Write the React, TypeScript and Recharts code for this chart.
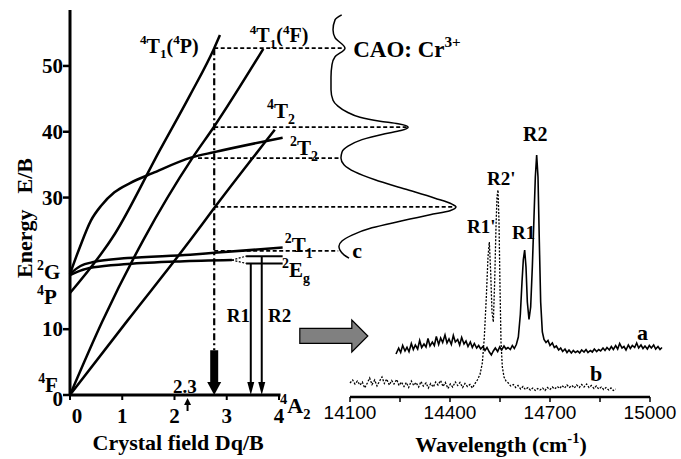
import React from "react";
import { ComposedChart, Line, XAxis, YAxis, ReferenceLine, ReferenceDot } from "recharts";

const SERIF = "Liberation Serif";
const SANS = "Liberation Sans";

// ---- left panel: Tanabe-Sugano diagram for d3, points are [Dq/B, E/B]
const DQ_DOMAIN: [number, number] = [0, 7.656];
const E_DOMAIN: [number, number] = [0, 58.5];
const ABS_DOMAIN: [number, number] = [-2.063, 1.111];
const DQ_TICKS = [0, 1, 2, 3, 4];
const E_TICKS = [0, 10, 30, 40, 50];

const LV_4T1P = [[0, 15.5], [0.86, 24.5], [1.72, 37.2], [2.3, 45.6], [2.76, 52.7], [2.87, 54.7]];
const LV_4T1F = [[0, 0], [0.62, 11.2], [1.4, 23.5], [2.35, 36.1], [2.76, 40.8], [3.7, 52.6]];
const LV_4T2 = [[0, 0], [1.1, 11.3], [2.3, 23.5], [2.76, 28.4], [3.92, 40.3]];
const LV_2T2 = [[0, 18.4], [0.19, 22.5], [0.4, 26.5], [0.6, 28.8], [0.85, 30.8], [1.15, 32.2], [1.58, 33.7], [2.33, 36.1], [2.76, 36.9], [4.07, 39.1]];
const LV_2T1 = [[0, 18.4], [0.2, 19.6], [0.45, 20.2], [1.1, 20.8], [2.3, 21.3], [2.76, 21.6], [4.07, 22.4]];
const LV_2E = [[0, 18.2], [0.2, 18.9], [0.45, 19.4], [1.1, 19.9], [2.1, 20.3], [3.1, 20.5]];

// absorption spectrum (c), drawn on its side: [absorbance, E/B], bottom to top
const ABS_C = [
  [0.151, 20.8], [0.111, 21.3], [0.079, 22.0], [0.071, 22.6], [0.095, 23.4], [0.175, 24.3],
  [0.333, 25.4], [0.556, 26.4], [0.794, 27.4], [0.952, 28.0], [1.0, 28.6], [0.968, 29.0],
  [0.833, 29.9], [0.595, 31.3], [0.357, 32.7], [0.198, 33.9], [0.111, 35.0], [0.087, 36.0],
  [0.095, 36.9], [0.143, 37.8], [0.254, 38.8], [0.437, 39.7], [0.563, 40.2], [0.62, 40.7],
  [0.54, 41.2], [0.397, 41.6], [0.238, 42.2], [0.135, 43.0], [0.063, 43.9], [0.024, 44.8],
  [0.008, 46.4], [0.008, 48.3], [0.016, 50.2], [0.04, 51.4], [0.119, 52.7], [0.04, 54.3],
  [0.024, 55.5], [0.04, 57.0], [0.093, 57.75],
];

// dashed links: [E/B, start Dq/B, end absorbance]
const LINKS = [[52.7, 2.76, 0.1], [40.7, 2.76, 0.61], [36.0, 2.45, 0.085], [28.6, 2.76, 0.99], [21.9, 2.76, 0.065]];

const DQ_SAMPLE = 2.76;
const EXC_TOP = 52.7;
const EXC_SHAFT = [6.8, 1.9];
const SPLIT_FROM = [3.1, 20.5];
const SPLIT_LEVELS = [21.1, 20.0];
const SPLIT_X = [3.37, 4.07];
const R_ARROWS = [[3.46, 20.0], [3.67, 21.1]]; // R1, R2
const DQ_MARK = 2.25;

// ---- right panel: emission spectra, [wavenumber cm-1, intensity]
const WL_DOMAIN: [number, number] = [14100, 15060];
const INT_DOMAIN: [number, number] = [0, 154.8];
const WL_TICKS = [14100, 14250, 14400, 14550, 14700, 14850, 15000];
const WL_LABELLED = [14100, 14400, 14700, 15000];

const SPEC_A = [
  [14238, 17.2], [14246, 19.5], [14252, 17.8], [14258, 20.6], [14265, 18.4], [14271, 19.9], [14277, 18.1],
  [14284, 21.4], [14290, 19.0], [14296, 20.8], [14303, 19.2], [14309, 22.6], [14315, 19.8], [14322, 21.2],
  [14328, 20.0], [14334, 23.4], [14340, 20.4], [14347, 22.0], [14353, 20.6], [14359, 24.2], [14366, 21.0],
  [14372, 23.6], [14378, 21.8], [14385, 24.8], [14391, 21.6], [14397, 23.2], [14404, 21.0], [14410, 24.6],
  [14416, 22.0], [14423, 23.0], [14429, 20.8], [14435, 23.8], [14442, 21.2], [14448, 22.4], [14454, 20.2],
  [14461, 22.0], [14467, 19.8], [14473, 21.4], [14480, 19.6], [14486, 20.6], [14492, 19.2], [14499, 20.2],
  [14505, 18.6], [14511, 19.8], [14518, 18.0], [14524, 16.8], [14530, 18.4], [14536, 19.6], [14543, 18.2],
  [14549, 20.0], [14555, 18.8], [14562, 20.4], [14568, 19.2], [14574, 19.8], [14581, 19.0], [14587, 20.6],
  [14593, 19.4], [14599, 21.0], [14605, 24], [14611, 33], [14616, 46], [14620, 55], [14624, 58.8],
  [14628, 52], [14632, 38], [14637, 31], [14642, 36], [14647, 52], [14652, 72], [14656, 88], [14660, 96.8],
  [14664, 88], [14668, 62], [14672, 38], [14677, 26], [14682, 23.0], [14688, 21.8], [14694, 22.6],
  [14700, 20.6], [14707, 21.6], [14713, 19.8], [14719, 20.4], [14726, 18.8], [14732, 19.6], [14738, 18.2],
  [14745, 19.2], [14751, 17.8], [14757, 18.8], [14764, 17.6], [14770, 18.6], [14776, 17.8], [14783, 18.4],
  [14789, 17.6], [14795, 18.8], [14802, 18.0], [14808, 19.0], [14814, 17.8], [14821, 18.6], [14827, 18.0],
  [14833, 19.2], [14840, 18.2], [14846, 19.0], [14852, 18.4], [14859, 19.6], [14865, 18.6], [14871, 19.8],
  [14878, 18.8], [14884, 20.2], [14890, 19.0], [14897, 20.6], [14903, 19.2], [14909, 21.4], [14916, 19.6],
  [14922, 20.2], [14928, 18.8], [14935, 20.8], [14941, 19.4], [14947, 20.6], [14954, 19.8], [14960, 21.6],
  [14966, 19.6], [14973, 20.8], [14979, 19.4], [14985, 20.4], [14992, 19.2], [14998, 20.6], [15004, 19.6],
  [15011, 20.8], [15017, 19.2], [15024, 20.2], [15030, 19.0], [15036, 19.8],
];

const SPEC_B = [
  [14100, 5.6], [14108, 6.8], [14115, 5.2], [14122, 6.4], [14130, 4.8], [14137, 6.0], [14144, 3.6],
  [14152, 5.6], [14159, 7.6], [14166, 5.0], [14174, 6.8], [14181, 4.4], [14188, 6.2], [14196, 8.0],
  [14203, 5.4], [14210, 7.2], [14218, 4.8], [14225, 6.6], [14232, 5.2], [14240, 7.0], [14247, 4.6],
  [14254, 6.0], [14262, 4.2], [14269, 5.8], [14276, 3.8], [14284, 6.4], [14291, 4.6], [14298, 5.8],
  [14306, 4.0], [14313, 6.2], [14320, 4.4], [14328, 5.6], [14335, 3.6], [14342, 5.4], [14350, 4.0],
  [14357, 6.0], [14364, 4.8], [14372, 6.6], [14379, 4.2], [14386, 5.8], [14394, 3.4], [14401, 5.2],
  [14408, 4.0], [14416, 6.0], [14423, 4.6], [14430, 5.8], [14438, 3.8], [14445, 5.4], [14452, 4.2],
  [14460, 5.0], [14467, 3.6], [14474, 5.2], [14482, 6.8], [14490, 9], [14497, 13.6], [14503, 24],
  [14509, 40], [14514, 56], [14518, 62], [14522, 50], [14526, 34], [14530, 30], [14534, 46], [14538, 68],
  [14541, 80], [14544, 82.8], [14547, 70], [14550, 44], [14553, 22], [14557, 12], [14562, 8.0],
  [14568, 6.4], [14575, 5.6], [14582, 4.4], [14590, 5.0], [14597, 3.8], [14604, 4.6], [14612, 3.2],
  [14619, 4.2], [14626, 3.0], [14634, 3.8], [14641, 2.8], [14648, 3.6], [14656, 2.6], [14663, 3.4],
  [14670, 2.8], [14678, 3.6], [14685, 2.6], [14692, 3.8], [14700, 3.0], [14707, 4.0], [14714, 3.2],
  [14722, 4.2], [14729, 3.4], [14736, 4.6], [14744, 3.6], [14751, 4.8], [14758, 3.8], [14766, 4.6],
  [14773, 3.6], [14780, 4.8], [14788, 3.8], [14795, 5.0], [14802, 4.0], [14810, 5.2], [14817, 3.8],
  [14824, 4.6], [14832, 3.4], [14839, 4.4], [14846, 3.2], [14854, 4.0], [14861, 3.0], [14868, 3.8],
  [14876, 2.8], [14883, 3.6], [14890, 2.6], [14897, 3.2],
];

type Tag = { x: number; y: number; text: string; size: number; anchor?: "start" | "middle" | "end" };

const LEFT_TAGS: Tag[] = [
  { x: 1.34, y: 52.0, text: "^4T_1(^4P)", size: 20 },
  { x: 3.44, y: 53.6, text: "^4T_1(^4F)", size: 20 },
  { x: 3.77, y: 42.1, text: "^4T_2", size: 21 },
  { x: 4.21, y: 36.5, text: "^2T_2", size: 21 },
  { x: 4.11, y: 21.7, text: "^2T_1", size: 21 },
  { x: 4.06, y: 17.9, text: "^2E_g", size: 21 },
  { x: 4.02, y: -2.7, text: "^4A_2", size: 22 },
  { x: -0.63, y: 17.6, text: "^2G", size: 21 },
  { x: -0.63, y: 13.8, text: "^4P", size: 21 },
  { x: -0.61, y: 0.46, text: "^4F", size: 21 },
  { x: 3.0, y: 11.1, text: "R1", size: 19 },
  { x: 3.79, y: 11.1, text: "R2", size: 19 },
  { x: 1.97, y: 0.3, text: "2.3", size: 19 },
  { x: 5.42, y: 51.4, text: "CAO: Cr^{3+}", size: 23 },
  { x: 5.4, y: 20.8, text: "c", size: 22 },
  { x: 2.07, y: -8.4, text: "Crystal field Dq/B", size: 22, anchor: "middle" },
];

const RIGHT_TAGS: Tag[] = [
  { x: 14619, y: 102.4, text: "R2", size: 20 },
  { x: 14511, y: 84.8, text: "R2'", size: 19 },
  { x: 14451, y: 65.6, text: "R1'", size: 19 },
  { x: 14586, y: 63.2, text: "R1", size: 19 },
  { x: 14961, y: 22.8, text: "a", size: 22 },
  { x: 14820, y: 6.4, text: "b", size: 22 },
  { x: 14553, y: -22, text: "Wavelength (cm^{-1})", size: 22, anchor: "middle" },
];

const toPts = (arr: number[][]) => arr.map(([x, y]) => ({ x, y }));
const absToDq = (a: number) =>
  DQ_DOMAIN[0] + ((a - ABS_DOMAIN[0]) / (ABS_DOMAIN[1] - ABS_DOMAIN[0])) * (DQ_DOMAIN[1] - DQ_DOMAIN[0]);

type Part = [string, "n" | "sup" | "sub"];
function parseRich(s: string): Part[] {
  const out: Part[] = [];
  let buf = "";
  let i = 0;
  while (i < s.length) {
    const c = s[i];
    if (c === "^" || c === "_") {
      if (buf) out.push([buf, "n"]);
      buf = "";
      let t: string;
      if (s[i + 1] === "{") {
        const j = s.indexOf("}", i);
        t = s.slice(i + 2, j);
        i = j + 1;
      } else {
        t = s[i + 1];
        i += 2;
      }
      out.push([t, c === "^" ? "sup" : "sub"]);
    } else {
      buf += c;
      i++;
    }
  }
  if (buf) out.push([buf, "n"]);
  return out;
}

function RichText({ x, y, tag }: { x: number; y: number; tag: Tag }) {
  const { size, anchor = "start" } = tag;
  let shift = 0;
  return (
    <text x={x} y={y} fontFamily={SERIF} fontWeight={700} fontSize={size} textAnchor={anchor} fill="#000">
      {parseRich(tag.text).map(([t, k], i) => {
        const target = k === "sup" ? -0.42 * size : k === "sub" ? 0.28 * size : 0;
        const dy = target - shift;
        shift = target;
        return (
          <tspan key={i} dy={dy} fontSize={k === "n" ? size : size * 0.66}>
            {t}
          </tspan>
        );
      })}
    </text>
  );
}

const tagShape = (tag: Tag) => (p: any) => <RichText x={p.cx} y={p.cy} tag={tag} />;

const downHead = (w: number, h: number) => (p: any) => (
  <polygon points={`${p.cx},${p.cy} ${p.cx - w / 2},${p.cy - h} ${p.cx + w / 2},${p.cy - h}`} fill="#000" />
);

const smallUp = (p: any) => (
  <g>
    <line x1={p.cx} y1={p.cy + 16} x2={p.cx} y2={p.cy + 8} stroke="#000" strokeWidth={2} />
    <polygon points={`${p.cx},${p.cy + 3} ${p.cx - 3.5},${p.cy + 10} ${p.cx + 3.5},${p.cy + 10}`} fill="#000" />
  </g>
);

const bigArrow = (p: any) => {
  const { cx, cy } = p;
  const pts = [
    [cx, cy], [cx - 16, cy - 16], [cx - 16, cy - 7.5], [cx - 68, cy - 7.5],
    [cx - 68, cy + 7.5], [cx - 16, cy + 7.5], [cx - 16, cy + 16],
  ];
  return <polygon points={pts.map((q) => q.join(",")).join(" ")} fill="#808080" stroke="#000" strokeWidth={1.2} />;
};

const yTitle = (p: any) => (
  <text
    x={p.cx}
    y={p.cy}
    transform={`rotate(-90 ${p.cx} ${p.cy})`}
    textAnchor="middle"
    fontFamily={SERIF}
    fontWeight={700}
    fontSize={22}
  >
    Energy<tspan dx={16}>E/B</tspan>
  </text>
);

const DqTick = ({ x, y, payload }: any) => (
  <text x={x + (payload.value === 0 ? 7 : 0)} y={y + 21} textAnchor="middle" fontFamily={SERIF} fontWeight={700} fontSize={21}>
    {payload.value}
  </text>
);

const ETick = ({ x, y, payload }: any) => (
  <text x={x + 2} y={y + (payload.value === 0 ? 11 : 7)} textAnchor="end" fontFamily={SERIF} fontWeight={700} fontSize={21}>
    {payload.value}
  </text>
);

const WlTick = ({ x, y, payload }: any) =>
  WL_LABELLED.includes(payload.value) ? (
    <text x={x} y={y + 15} textAnchor="middle" fontFamily={SANS} fontSize={19}>
      {payload.value}
    </text>
  ) : (
    <g />
  );

const LEVELS = [LV_4T1P, LV_4T1F, LV_4T2, LV_2T2, LV_2T1, LV_2E];

export default function App() {
  return (
    <div style={{ position: "fixed", left: 0, top: 0, width: 681, height: 459, background: "#fff" }}>
      <div style={{ position: "absolute", left: 0, top: 0 }}>
        <ComposedChart width={681} height={459} margin={{ top: 10, right: 211, bottom: 34, left: 10 }}>
          <XAxis
            type="number"
            dataKey="x"
            domain={DQ_DOMAIN}
            ticks={DQ_TICKS}
            interval={0}
            height={30}
            axisLine={false}
            tickSize={5}
            tickLine={{ stroke: "#000", strokeWidth: 2 }}
            tick={DqTick}
          />
          <XAxis xAxisId="abs" type="number" dataKey="x" domain={ABS_DOMAIN} hide />
          <YAxis
            type="number"
            dataKey="y"
            domain={E_DOMAIN}
            ticks={E_TICKS}
            interval={0}
            width={60}
            tickSize={7}
            axisLine={{ stroke: "#000", strokeWidth: 3 }}
            tickLine={{ stroke: "#000", strokeWidth: 2.5 }}
            tick={ETick}
          />
          <ReferenceLine segment={[{ x: 0, y: 0 }, { x: 4.03, y: 0 }]} stroke="#000" strokeWidth={3} ifOverflow="visible" />

          {LINKS.map(([e, from, to], i) => (
            <ReferenceLine
              key={`lk${i}`}
              segment={[{ x: from, y: e }, { x: absToDq(to), y: e }]}
              stroke="#000"
              strokeWidth={1.8}
              strokeDasharray="4 2.5"
              ifOverflow="visible"
            />
          ))}

          {LEVELS.map((lv, i) => (
            <Line
              key={`lv${i}`}
              data={toPts(lv)}
              dataKey="y"
              type="monotone"
              stroke="#000"
              strokeWidth={2.5}
              dot={false}
              activeDot={false}
              isAnimationActive={false}
            />
          ))}

          <Line
            xAxisId="abs"
            data={toPts(ABS_C)}
            dataKey="y"
            type="monotoneY"
            stroke="#000"
            strokeWidth={1.5}
            dot={false}
            activeDot={false}
            isAnimationActive={false}
          />

          {/* excitation at Dq/B = 2.76 */}
          <ReferenceLine
            segment={[{ x: DQ_SAMPLE, y: EXC_TOP }, { x: DQ_SAMPLE, y: EXC_SHAFT[0] }]}
            stroke="#000"
            strokeWidth={2.2}
            strokeDasharray="7 3 2 3"
            ifOverflow="visible"
          />
          <ReferenceLine
            segment={[{ x: DQ_SAMPLE, y: EXC_SHAFT[0] }, { x: DQ_SAMPLE, y: EXC_SHAFT[1] }]}
            stroke="#000"
            strokeWidth={8}
            ifOverflow="visible"
          />
          <ReferenceDot x={DQ_SAMPLE} y={0} ifOverflow="visible" shape={downHead(14, 13)} />

          {/* 2E splitting and R lines */}
          {SPLIT_LEVELS.map((e, i) => (
            <ReferenceLine
              key={`sd${i}`}
              segment={[{ x: SPLIT_FROM[0], y: SPLIT_FROM[1] }, { x: SPLIT_X[0], y: e }]}
              stroke="#000"
              strokeWidth={1.2}
              strokeDasharray="2 1.5"
              ifOverflow="visible"
            />
          ))}
          {SPLIT_LEVELS.map((e, i) => (
            <ReferenceLine
              key={`sl${i}`}
              segment={[{ x: SPLIT_X[0], y: e }, { x: SPLIT_X[1], y: e }]}
              stroke="#000"
              strokeWidth={2}
              ifOverflow="visible"
            />
          ))}
          {R_ARROWS.map(([x, e], i) => (
            <ReferenceLine
              key={`ra${i}`}
              segment={[{ x, y: e }, { x, y: 1.5 }]}
              stroke="#000"
              strokeWidth={2}
              ifOverflow="visible"
            />
          ))}
          {R_ARROWS.map(([x], i) => (
            <ReferenceDot key={`rh${i}`} x={x} y={0} ifOverflow="visible" shape={downHead(7, 13)} />
          ))}
          <ReferenceDot x={DQ_MARK} y={0} ifOverflow="visible" shape={smallUp} />

          <ReferenceDot x={5.7} y={8.97} ifOverflow="visible" shape={bigArrow} />
          <ReferenceDot x={-0.727} y={26.9} ifOverflow="visible" shape={yTitle} />
          {LEFT_TAGS.map((t, i) => (
            <ReferenceDot key={`lt${i}`} x={t.x} y={t.y} ifOverflow="visible" shape={tagShape(t)} />
          ))}
        </ComposedChart>
      </div>

      <div style={{ position: "absolute", left: 0, top: 0 }}>
        <ComposedChart width={681} height={459} margin={{ top: 10, right: 11, bottom: 32, left: 350 }}>
          <XAxis
            type="number"
            dataKey="x"
            domain={WL_DOMAIN}
            ticks={WL_TICKS}
            interval={0}
            height={30}
            axisLine={false}
            tickSize={5}
            tickLine={{ stroke: "#000", strokeWidth: 1.5 }}
            tick={WlTick}
          />
          <YAxis type="number" dataKey="y" domain={INT_DOMAIN} hide />
          <ReferenceLine segment={[{ x: 14100, y: 0 }, { x: 15000, y: 0 }]} stroke="#000" strokeWidth={2.5} ifOverflow="visible" />
          <Line
            data={toPts(SPEC_B)}
            dataKey="y"
            type="linear"
            stroke="#000"
            strokeWidth={1.3}
            strokeDasharray="2 1.5"
            dot={false}
            activeDot={false}
            isAnimationActive={false}
          />
          <Line
            data={toPts(SPEC_A)}
            dataKey="y"
            type="linear"
            stroke="#000"
            strokeWidth={1.6}
            dot={false}
            activeDot={false}
            isAnimationActive={false}
          />
          {RIGHT_TAGS.map((t, i) => (
            <ReferenceDot key={`rt${i}`} x={t.x} y={t.y} ifOverflow="visible" shape={tagShape(t)} />
          ))}
        </ComposedChart>
      </div>
    </div>
  );
}
